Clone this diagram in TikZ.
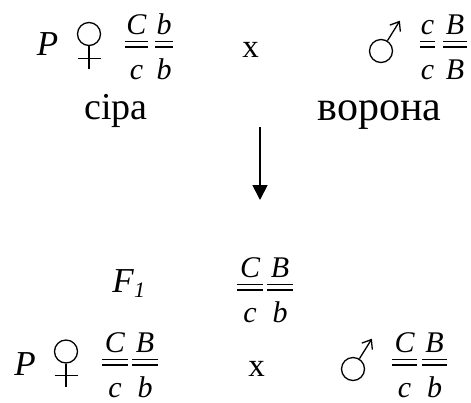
\documentclass[tikz,border=0pt]{standalone}
\usepackage{fontspec}
\setmainfont{Liberation Serif}
\usetikzlibrary{arrows.meta}
% gene pair: name, x centre, bar y, top letter, bottom letter, half width
\newcommand\mygene[6]{%
  \node[gl] (#1t) at (#2,#3-12.5) {#4};
  \node[gl] (#1b) at (#2,#3+32) {#5};
  \draw[genebar] (#2-#6,#3) -- (#2+#6,#3);
  \draw[genebar] (#2-#6,#3-5.5) -- (#2+#6,#3-5.5);
}
\newcommand\myfemale[3]{%
  \node[sexsym] (#1) at (#2,#3) {};
  \draw[symline] (#1.south) -- ++(0,23);
  \draw[symline] ([shift={(-11.5,12)}]#1.south) -- ++(23,0);
}
\newcommand\mymale[3]{%
  \node[sexsym] (#1) at (#2,#3) {};
  \draw[symline] (#1.58) -- ++(11.9,-19.1) coordinate (#1tip);
  \draw[symline] ([shift={(-9.5,3.5)}]#1tip) -- (#1tip) -- ++(1,10);
}
\begin{document}
\begin{tikzpicture}[x=1bp,y=-1bp,
  gl/.style={font=\fontsize{30bp}{32bp}\selectfont\itshape, inner sep=0pt, anchor=base},
  bigit/.style={font=\fontsize{35bp}{37bp}\selectfont\itshape, inner sep=0pt, anchor=base},
  subit/.style={font=\fontsize{22bp}{24bp}\selectfont\itshape, inner sep=0pt, anchor=base west},
  lab/.style={font=\fontsize{38bp}{40bp}\selectfont, inner sep=0pt, anchor=base},
  labwide/.style={font=\fontsize{42bp}{44bp}\selectfont, inner sep=0pt, anchor=base},
  crosssign/.style={font=\fontsize{33bp}{35bp}\selectfont, inner sep=0pt, anchor=base},
  sexsym/.style={circle, draw, line width=1.3bp, minimum size=23bp, inner sep=0pt},
  symline/.style={line width=1.3bp},
  genebar/.style={line width=1.3bp},
  arr/.style={line width=1.8bp, -{Triangle[width=15bp,length=15bp]}},
]
\useasboundingbox (0,0) rectangle (471,402);

% Row 1 : parents
\node[bigit] (P1) at (47.5,55) {P};
\myfemale{f1}{89}{34}
\mygene{g1}{136.5}{47}{C}{c}{11.5}
\mygene{g2}{164}{47}{b}{b}{9}
\node[crosssign] (x1) at (250.5,57) {x};
\mymale{m1}{381}{51}
\mygene{g3}{427.5}{47}{c}{c}{7.5}
\mygene{g4}{455}{47}{B}{B}{12}
\node[lab] (l1) at (116,119) {сіра};
\node[labwide] (l2) at (379.5,120) {ворона};

% arrow
\coordinate (a1) at (260,127);
\coordinate (a2) at (260,200);
\draw[arr] (a1) -- (a2);

% F1
\node[bigit] (F) at (123,292) {F};
\node[subit] (F1) at (134,297) {1};
\mygene{g5}{250}{290}{C}{c}{13}
\mygene{g6}{280}{290}{B}{b}{13}

% Row 3
\node[bigit] (P2) at (25,375) {P};
\myfemale{f2}{66}{351.5}
\mygene{g7}{115}{365}{C}{c}{13}
\mygene{g8}{145}{365}{B}{b}{13}
\node[crosssign] (x2) at (256.5,376) {x};
\mymale{m2}{353}{369}
\mygene{g9}{404.5}{365}{C}{c}{12.5}
\mygene{g10}{434.5}{365}{B}{b}{12.5}
\end{tikzpicture}
\end{document}
